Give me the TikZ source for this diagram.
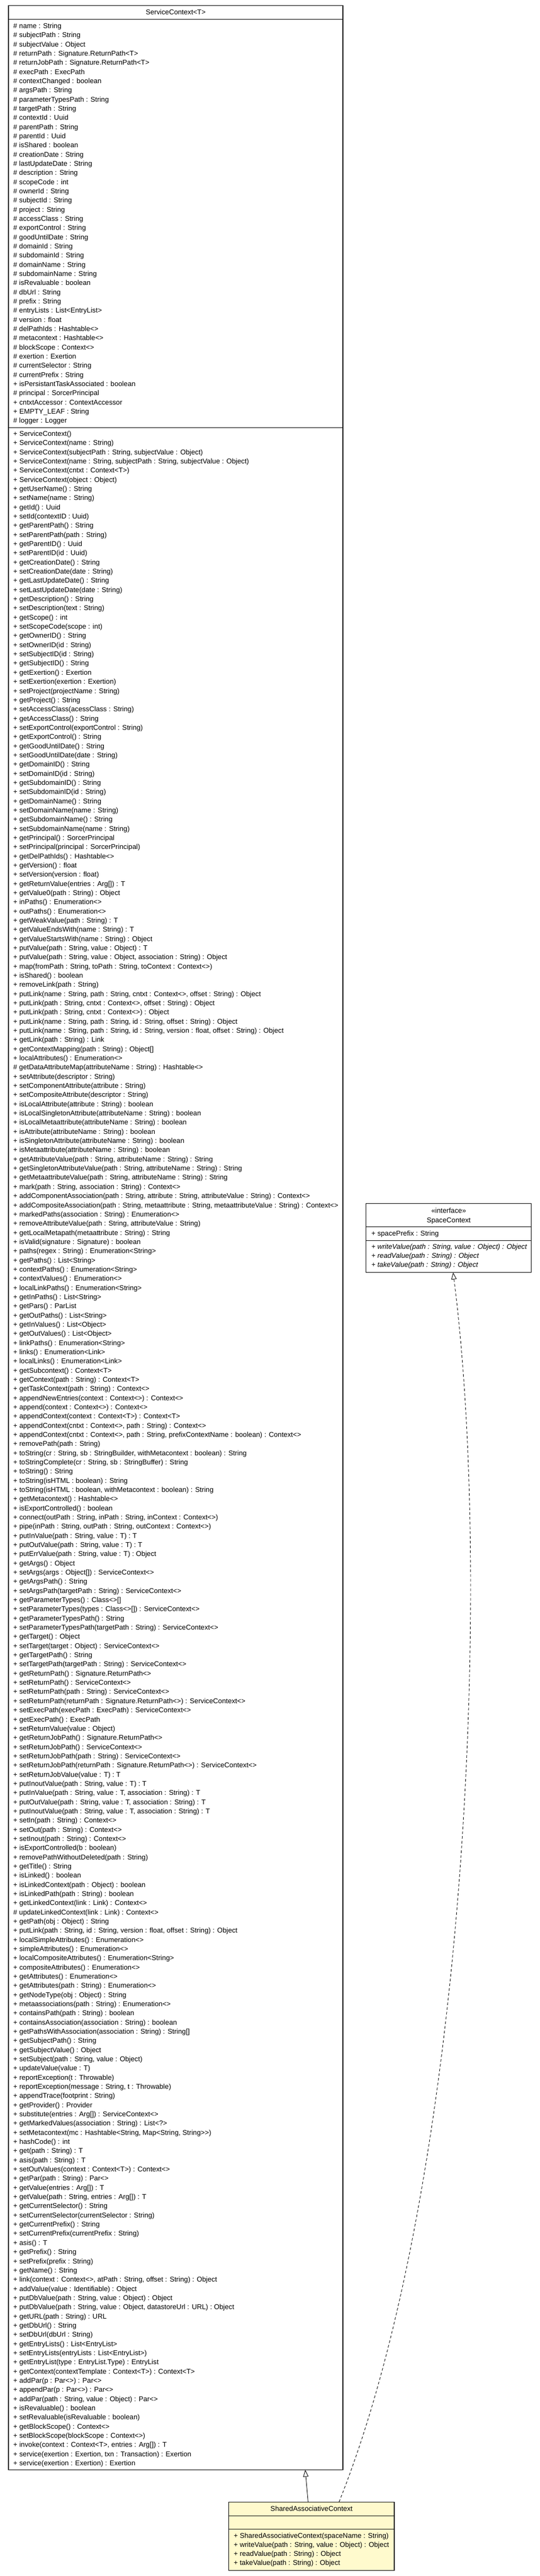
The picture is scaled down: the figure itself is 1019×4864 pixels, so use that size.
\documentclass[tikz,border=0pt]{standalone}
\usepackage{fontspec}
\setmainfont{Liberation Sans}
\usetikzlibrary{arrows.meta}
\definecolor{sacfill}{HTML}{FFFACD}
\newcommand\umlfont{\fontsize{13.2}{15}\selectfont}
\tikzset{
  box/.style={draw=black, line width=1.1pt, inner sep=0pt, outer sep=0pt},
  sepline/.style={line width=1pt},
  txt/.style={anchor=base west, inner sep=0pt, font=\umlfont},
  ttl/.style={anchor=base, inner sep=0pt, font=\umlfont},
  gen/.style={line width=0.9pt, -{Triangle[open, length=13pt, width=10pt]}},
  realize/.style={gen, dash pattern=on 5pt off 4pt},
}
\begin{document}
\begin{tikzpicture}[x=1pt,y=-1pt]
\useasboundingbox (0,0) rectangle (1019,4864);
\fill[white] (0,0) rectangle (1019,4864);
% ServiceContext
\node[box, anchor=north west, minimum width=631pt, minimum height=4652.8pt] (sc) at (16,10.7) {};
\draw[sepline] (16,36.7) -- (647,36.7);
\draw[sepline] (16,807) -- (647,807);
\node[ttl] (sctitle) at (331.5,27) {ServiceContext<T>};
\foreach \mytext [count=\i from 0] in {
{\# name : String},
{\# subjectPath : String},
{\# subjectValue : Object},
{\# returnPath : Signature.ReturnPath<T>},
{\# returnJobPath : Signature.ReturnPath<T>},
{\# execPath : ExecPath},
{\# contextChanged : boolean},
{\# argsPath : String},
{\# parameterTypesPath : String},
{\# targetPath : String},
{\# contextId : Uuid},
{\# parentPath : String},
{\# parentId : Uuid},
{\# isShared : boolean},
{\# creationDate : String},
{\# lastUpdateDate : String},
{\# description : String},
{\# scopeCode : int},
{\# ownerId : String},
{\# subjectId : String},
{\# project : String},
{\# accessClass : String},
{\# exportControl : String},
{\# goodUntilDate : String},
{\# domainId : String},
{\# subdomainId : String},
{\# domainName : String},
{\# subdomainName : String},
{\# isRevaluable : boolean},
{\# dbUrl : String},
{\# prefix : String},
{\# entryLists : List<EntryList>},
{\# version : float},
{\# delPathIds : Hashtable<>},
{\# metacontext : Hashtable<>},
{\# blockScope : Context<>},
{\# exertion : Exertion},
{\# currentSelector : String},
{\# currentPrefix : String},
{+ isPersistantTaskAssociated : boolean},
{\# principal : SorcerPrincipal},
{+ cntxtAccessor : ContextAccessor},
{+ EMPTY\_LEAF : String},
{\# logger : Logger}
}{\node[txt] (f\i) at (25,{53.5+\i*17.33}) {\mytext};}
\foreach \mytext [count=\i from 0] in {
{+ ServiceContext()},
{+ ServiceContext(name : String)},
{+ ServiceContext(subjectPath : String, subjectValue : Object)},
{+ ServiceContext(name : String, subjectPath : String, subjectValue : Object)},
{+ ServiceContext(cntxt : Context<T>)},
{+ ServiceContext(object : Object)},
{+ getUserName() : String},
{+ setName(name : String)},
{+ getId() : Uuid},
{+ setId(contextID : Uuid)},
{+ getParentPath() : String},
{+ setParentPath(path : String)},
{+ getParentID() : Uuid},
{+ setParentID(id : Uuid)},
{+ getCreationDate() : String},
{+ setCreationDate(date : String)},
{+ getLastUpdateDate() : String},
{+ setLastUpdateDate(date : String)},
{+ getDescription() : String},
{+ setDescription(text : String)},
{+ getScope() : int},
{+ setScopeCode(scope : int)},
{+ getOwnerID() : String},
{+ setOwnerID(id : String)},
{+ setSubjectID(id : String)},
{+ getSubjectID() : String},
{+ getExertion() : Exertion},
{+ setExertion(exertion : Exertion)},
{+ setProject(projectName : String)},
{+ getProject() : String},
{+ setAccessClass(acessClass : String)},
{+ getAccessClass() : String},
{+ setExportControl(exportControl : String)},
{+ getExportControl() : String},
{+ getGoodUntilDate() : String},
{+ setGoodUntilDate(date : String)},
{+ getDomainID() : String},
{+ setDomainID(id : String)},
{+ getSubdomainID() : String},
{+ setSubdomainID(id : String)},
{+ getDomainName() : String},
{+ setDomainName(name : String)},
{+ getSubdomainName() : String},
{+ setSubdomainName(name : String)},
{+ getPrincipal() : SorcerPrincipal},
{+ setPrincipal(principal : SorcerPrincipal)},
{+ getDelPathIds() : Hashtable<>},
{+ getVersion() : float},
{+ setVersion(version : float)},
{+ getReturnValue(entries : Arg[]) : T},
{+ getValue0(path : String) : Object},
{+ inPaths() : Enumeration<>},
{+ outPaths() : Enumeration<>},
{+ getWeakValue(path : String) : T},
{+ getValueEndsWith(name : String) : T},
{+ getValueStartsWith(name : String) : Object},
{+ putValue(path : String, value : Object) : T},
{+ putValue(path : String, value : Object, association : String) : Object},
{+ map(fromPath : String, toPath : String, toContext : Context<>)},
{+ isShared() : boolean},
{+ removeLink(path : String)},
{+ putLink(name : String, path : String, cntxt : Context<>, offset : String) : Object},
{+ putLink(path : String, cntxt : Context<>, offset : String) : Object},
{+ putLink(path : String, cntxt : Context<>) : Object},
{+ putLink(name : String, path : String, id : String, offset : String) : Object},
{+ putLink(name : String, path : String, id : String, version : float, offset : String) : Object},
{+ getLink(path : String) : Link},
{+ getContextMapping(path : String) : Object[]},
{+ localAttributes() : Enumeration<>},
{\# getDataAttributeMap(attributeName : String) : Hashtable<>},
{+ setAttribute(descriptor : String)},
{+ setComponentAttribute(attribute : String)},
{+ setCompositeAttribute(descriptor : String)},
{+ isLocalAttribute(attribute : String) : boolean},
{+ isLocalSingletonAttribute(attributeName : String) : boolean},
{+ isLocalMetaattribute(attributeName : String) : boolean},
{+ isAttribute(attributeName : String) : boolean},
{+ isSingletonAttribute(attributeName : String) : boolean},
{+ isMetaattribute(attributeName : String) : boolean},
{+ getAttributeValue(path : String, attributeName : String) : String},
{+ getSingletonAttributeValue(path : String, attributeName : String) : String},
{+ getMetaattributeValue(path : String, attributeName : String) : String},
{+ mark(path : String, association : String) : Context<>},
{+ addComponentAssociation(path : String, attribute : String, attributeValue : String) : Context<>},
{+ addCompositeAssociation(path : String, metaattribute : String, metaattributeValue : String) : Context<>},
{+ markedPaths(association : String) : Enumeration<>},
{+ removeAttributeValue(path : String, attributeValue : String)},
{+ getLocalMetapath(metaattribute : String) : String},
{+ isValid(signature : Signature) : boolean},
{+ paths(regex : String) : Enumeration<String>},
{+ getPaths() : List<String>},
{+ contextPaths() : Enumeration<String>},
{+ contextValues() : Enumeration<>},
{+ localLinkPaths() : Enumeration<String>},
{+ getInPaths() : List<String>},
{+ getPars() : ParList},
{+ getOutPaths() : List<String>},
{+ getInValues() : List<Object>},
{+ getOutValues() : List<Object>},
{+ linkPaths() : Enumeration<String>},
{+ links() : Enumeration<Link>},
{+ localLinks() : Enumeration<Link>},
{+ getSubcontext() : Context<T>},
{+ getContext(path : String) : Context<T>},
{+ getTaskContext(path : String) : Context<>},
{+ appendNewEntries(context : Context<>) : Context<>},
{+ append(context : Context<>) : Context<>},
{+ appendContext(context : Context<T>) : Context<T>},
{+ appendContext(cntxt : Context<>, path : String) : Context<>},
{+ appendContext(cntxt : Context<>, path : String, prefixContextName : boolean) : Context<>},
{+ removePath(path : String)},
{+ toString(cr : String, sb : StringBuilder, withMetacontext : boolean) : String},
{+ toStringComplete(cr : String, sb : StringBuffer) : String},
{+ toString() : String},
{+ toString(isHTML : boolean) : String},
{+ toString(isHTML : boolean, withMetacontext : boolean) : String},
{+ getMetacontext() : Hashtable<>},
{+ isExportControlled() : boolean},
{+ connect(outPath : String, inPath : String, inContext : Context<>)},
{+ pipe(inPath : String, outPath : String, outContext : Context<>)},
{+ putInValue(path : String, value : T) : T},
{+ putOutValue(path : String, value : T) : T},
{+ putErrValue(path : String, value : T) : Object},
{+ getArgs() : Object},
{+ setArgs(args : Object[]) : ServiceContext<>},
{+ getArgsPath() : String},
{+ setArgsPath(targetPath : String) : ServiceContext<>},
{+ getParameterTypes() : Class<>[]},
{+ setParameterTypes(types : Class<>[]) : ServiceContext<>},
{+ getParameterTypesPath() : String},
{+ setParameterTypesPath(targetPath : String) : ServiceContext<>},
{+ getTarget() : Object},
{+ setTarget(target : Object) : ServiceContext<>},
{+ getTargetPath() : String},
{+ setTargetPath(targetPath : String) : ServiceContext<>},
{+ getReturnPath() : Signature.ReturnPath<>},
{+ setReturnPath() : ServiceContext<>},
{+ setReturnPath(path : String) : ServiceContext<>},
{+ setReturnPath(returnPath : Signature.ReturnPath<>) : ServiceContext<>},
{+ setExecPath(execPath : ExecPath) : ServiceContext<>},
{+ getExecPath() : ExecPath},
{+ setReturnValue(value : Object)},
{+ getReturnJobPath() : Signature.ReturnPath<>},
{+ setReturnJobPath() : ServiceContext<>},
{+ setReturnJobPath(path : String) : ServiceContext<>},
{+ setReturnJobPath(returnPath : Signature.ReturnPath<>) : ServiceContext<>},
{+ setReturnJobValue(value : T) : T},
{+ putInoutValue(path : String, value : T) : T},
{+ putInValue(path : String, value : T, association : String) : T},
{+ putOutValue(path : String, value : T, association : String) : T},
{+ putInoutValue(path : String, value : T, association : String) : T},
{+ setIn(path : String) : Context<>},
{+ setOut(path : String) : Context<>},
{+ setInout(path : String) : Context<>},
{+ isExportControlled(b : boolean)},
{+ removePathWithoutDeleted(path : String)},
{+ getTitle() : String},
{+ isLinked() : boolean},
{+ isLinkedContext(path : Object) : boolean},
{+ isLinkedPath(path : String) : boolean},
{+ getLinkedContext(link : Link) : Context<>},
{\# updateLinkedContext(link : Link) : Context<>},
{+ getPath(obj : Object) : String},
{+ putLink(path : String, id : String, version : float, offset : String) : Object},
{+ localSimpleAttributes() : Enumeration<>},
{+ simpleAttributes() : Enumeration<>},
{+ localCompositeAttributes() : Enumeration<String>},
{+ compositeAttributes() : Enumeration<>},
{+ getAttributes() : Enumeration<>},
{+ getAttributes(path : String) : Enumeration<>},
{+ getNodeType(obj : Object) : String},
{+ metaassociations(path : String) : Enumeration<>},
{+ containsPath(path : String) : boolean},
{+ containsAssociation(association : String) : boolean},
{+ getPathsWithAssociation(association : String) : String[]},
{+ getSubjectPath() : String},
{+ getSubjectValue() : Object},
{+ setSubject(path : String, value : Object)},
{+ updateValue(value : T)},
{+ reportException(t : Throwable)},
{+ reportException(message : String, t : Throwable)},
{+ appendTrace(footprint : String)},
{+ getProvider() : Provider},
{+ substitute(entries : Arg[]) : ServiceContext<>},
{+ getMarkedValues(association : String) : List<?>},
{+ setMetacontext(mc : Hashtable<String, Map<String, String>{}>)},
{+ hashCode() : int},
{+ get(path : String) : T},
{+ asis(path : String) : T},
{+ setOutValues(context : Context<T>) : Context<>},
{+ getPar(path : String) : Par<>},
{+ getValue(entries : Arg[]) : T},
{+ getValue(path : String, entries : Arg[]) : T},
{+ getCurrentSelector() : String},
{+ setCurrentSelector(currentSelector : String)},
{+ getCurrentPrefix() : String},
{+ setCurrentPrefix(currentPrefix : String)},
{+ asis() : T},
{+ getPrefix() : String},
{+ setPrefix(prefix : String)},
{+ getName() : String},
{+ link(context : Context<>, atPath : String, offset : String) : Object},
{+ addValue(value : Identifiable) : Object},
{+ putDbValue(path : String, value : Object) : Object},
{+ putDbValue(path : String, value : Object, datastoreUrl : URL) : Object},
{+ getURL(path : String) : URL},
{+ getDbUrl() : String},
{+ setDbUrl(dbUrl : String)},
{+ getEntryLists() : List<EntryList>},
{+ setEntryLists(entryLists : List<EntryList>)},
{+ getEntryList(type : EntryList.Type) : EntryList},
{+ getContext(contextTemplate : Context<T>) : Context<T>},
{+ addPar(p : Par<>) : Par<>},
{+ appendPar(p : Par<>) : Par<>},
{+ addPar(path : String, value : Object) : Par<>},
{+ isRevaluable() : boolean},
{+ setRevaluable(isRevaluable : boolean)},
{+ getBlockScope() : Context<>},
{+ setBlockScope(blockScope : Context<>)},
{+ invoke(context : Context<T>, entries : Arg[]) : T},
{+ service(exertion : Exertion, txn : Transaction) : Exertion},
{+ service(exertion : Exertion) : Exertion}
}{\node[txt] (m\i) at (25,{823.5+\i*17.339}) {\mytext};}
% SpaceContext
\node[box, anchor=north west, minimum width=312pt, minimum height=130pt] (spc) at (690.7,2272.7) {};
\draw[sepline] (690.7,2316.7) -- (1002.7,2316.7);
\draw[sepline] (690.7,2342.3) -- (1002.7,2342.3);
\node[ttl] (spcster) at (846.7,2290) {«interface»};
\node[ttl] (spctitle) at (846.7,2308) {SpaceContext};
\node[txt] (spca) at (700.7,2333.5) {+ spacePrefix : String};
\node[txt] (spcm1) at (700.7,2358.8) {\itshape + writeValue(path : String, value : Object) : Object};
\node[txt] (spcm2) at (700.7,2375.6) {\itshape + readValue(path : String) : Object};
\node[txt] (spcm3) at (700.7,2392.5) {\itshape + takeValue(path : String) : Object};
% SharedAssociativeContext
\node[box, fill=sacfill, anchor=north west, minimum width=312.3pt, minimum height=129.3pt] (sac) at (431.7,4724) {};
\draw[sepline] (431.7,4750.7) -- (744,4750.7);
\draw[sepline] (431.7,4775.7) -- (744,4775.7);
\node[ttl] (sactitle) at (587.9,4741) {SharedAssociativeContext};
\node[txt] (sacm1) at (441,4792.2) {+ SharedAssociativeContext(spaceName : String)};
\node[txt] (sacm2) at (441,4809.4) {+ writeValue(path : String, value : Object) : Object};
\node[txt] (sacm3) at (441,4826.6) {+ readValue(path : String) : Object};
\node[txt] (sacm4) at (441,4843.8) {+ takeValue(path : String) : Object};
% connectors
\draw[gen] ([xshift=-6.5pt]sac.north) -- ([xshift=244.5pt]sc.south);
\draw[realize] ([xshift=52pt]sac.north) .. controls (876,4134) and (932,3005) .. ([xshift=8.3pt]spc.south);
\end{tikzpicture}
\end{document}
